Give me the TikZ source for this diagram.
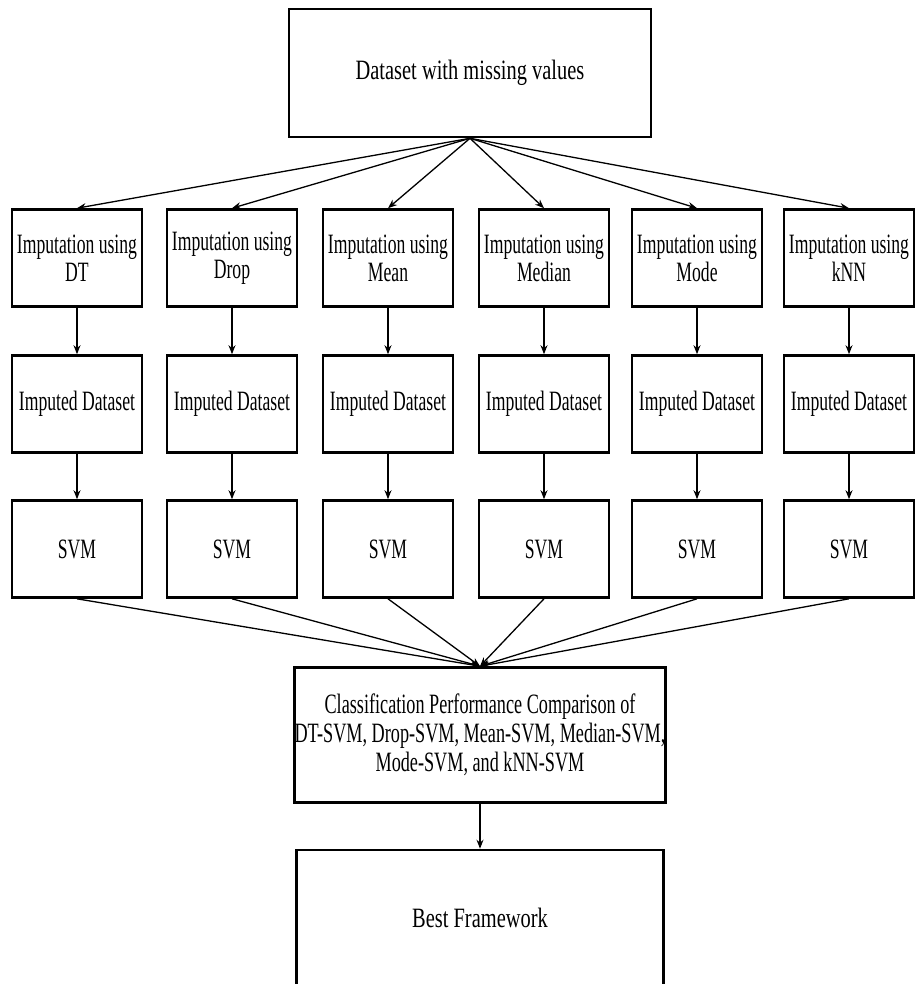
\documentclass[tikz,border=0pt]{standalone}
\usepackage{fontspec}
\setmainfont{Liberation Serif}
\newfontfamily\widefont[FakeStretch=0.73]{Liberation Serif}
\newfontfamily\midfont[FakeStretch=0.65]{Liberation Serif}
\newfontfamily\narrowfont[FakeStretch=0.63]{Liberation Serif}
\usetikzlibrary{
    positioning,           % Relative positioning
    arrows.meta            % Modern arrow tips
}

\tikzset{
    box/.style={draw, rectangle, line width=2.6pt, align=center, inner sep=0pt},
    colbox/.style={box, minimum width=130pt, minimum height=97pt,
        font=\narrowfont\fontsize{28}{28}\selectfont},
    flow/.style={-{Stealth[length=9pt,width=7pt]}, line width=1.3pt}
}

\begin{document}
\begin{tikzpicture}[x=1pt,y=-1pt]
    \useasboundingbox (0,0) rectangle (914,984);
    % source and final boxes
    \node[box, minimum width=362pt, minimum height=128pt,
        font=\widefont\fontsize{28}{29}\selectfont] (data) at (470,73) {Dataset with missing values};
    \node[box, minimum width=367pt, minimum height=135pt,
        font=\midfont\fontsize{28}{29}\selectfont] (comp) at (480,735)
        {Classification Performance Comparison of\\DT-SVM, Drop-SVM, Mean-SVM, Median-SVM,\\Mode-SVM, and kNN-SVM};
    \node[box, minimum width=367pt, minimum height=136pt,
        font=\widefont\fontsize{28}{29}\selectfont] (best) at (480,918) {Best Framework};
    \draw[flow] (comp) -- (best);
    % one column per imputation method
    \foreach \x/\m [count=\i] in {77/DT, 232/Drop, 388/Mean, 544/Median, 697/Mode, 849/kNN}
    {
        \node[colbox] (imp\i) at (\x,258) {Imputation using\\\m};
        \node[colbox] (ids\i) at (\x,404) {Imputed Dataset};
        \node[colbox] (svm\i) at (\x,549) {SVM};
        \draw[flow] (data.south) -- (imp\i.north);
        \draw[flow] (imp\i) -- (ids\i);
        \draw[flow] (ids\i) -- (svm\i);
        \draw[flow] (svm\i.south) -- (comp.north);
    }
\end{tikzpicture}
\end{document}
